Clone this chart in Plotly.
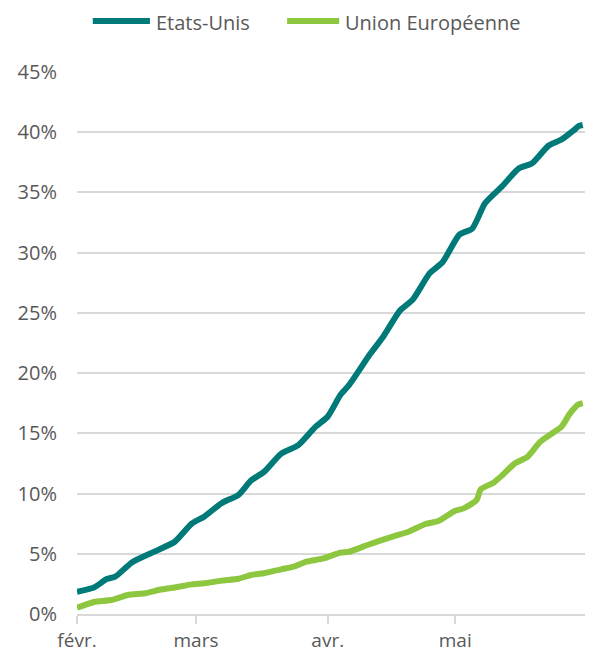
import plotly.graph_objects as go

# ---- data (share of population, %) ----
us_dates = ["2021-02-01", "2021-02-05", "2021-02-08", "2021-02-10", "2021-02-14", "2021-02-20",
            "2021-02-24", "2021-02-28", "2021-03-03", "2021-03-07", "2021-03-11", "2021-03-14",
            "2021-03-17", "2021-03-21", "2021-03-25", "2021-03-29", "2021-04-01", "2021-04-04",
            "2021-04-06", "2021-04-11", "2021-04-14", "2021-04-18", "2021-04-21", "2021-04-25",
            "2021-04-28", "2021-05-02", "2021-05-05", "2021-05-08", "2021-05-12", "2021-05-16",
            "2021-05-19", "2021-05-23", "2021-05-26", "2021-05-29", "2021-05-30", "2021-05-31"]
us_values = [1.85, 2.2, 2.9, 3.1, 4.3, 5.3,
             6.0, 7.5, 8.1, 9.2, 9.9, 11.1,
             11.8, 13.3, 14.0, 15.5, 16.4, 18.2,
             19.0, 21.6, 23.0, 25.2, 26.1, 28.3,
             29.2, 31.5, 32.0, 34.1, 35.5, 37.0,
             37.4, 38.9, 39.4, 40.2, 40.5, 40.6]

eu_dates = ["2021-02-01", "2021-02-05", "2021-02-09", "2021-02-13", "2021-02-17", "2021-02-21",
            "2021-02-24", "2021-02-28", "2021-03-03", "2021-03-07", "2021-03-11", "2021-03-14",
            "2021-03-17", "2021-03-21", "2021-03-24", "2021-03-27", "2021-03-31", "2021-04-04",
            "2021-04-06", "2021-04-11", "2021-04-17", "2021-04-20", "2021-04-24", "2021-04-27",
            "2021-05-01", "2021-05-03", "2021-05-06", "2021-05-07", "2021-05-10", "2021-05-12",
            "2021-05-15", "2021-05-18", "2021-05-21", "2021-05-24", "2021-05-26", "2021-05-28",
            "2021-05-30", "2021-05-31"]
eu_values = [0.52, 1.0, 1.16, 1.58, 1.72, 2.05,
             2.2, 2.46, 2.55, 2.77, 2.93, 3.24,
             3.38, 3.71, 3.93, 4.34, 4.62, 5.09,
             5.17, 5.81, 6.5, 6.83, 7.47, 7.72,
             8.57, 8.77, 9.46, 10.35, 10.9, 11.5,
             12.5, 13.05, 14.3, 15.05, 15.55, 16.65,
             17.4, 17.5]

series_names = ["Etats-Unis", "Union Européenne"]

x_tick_vals = ["2021-02-01", "2021-03-01", "2021-04-01", "2021-05-01", "2021-06-01"]
x_tick_text = ["févr.", "mars", "avr.", "mai", ""]
y_tick_vals = [0, 5, 10, 15, 20, 25, 30, 35, 40, 45]
y_tick_text = ["0%", "5%", "10%", "15%", "20%", "25%", "30%", "35%", "40%", "45%"]

US_COLOR = "#007A78"
EU_COLOR = "#8DC63F"
GRID = "#D9D9D9"
TXT = "#595959"
FONT = "Open Sans"
FS = 20

fig = go.Figure()
fig.add_trace(go.Scatter(x=us_dates, y=us_values, name=series_names[0], mode="lines",
                         line=dict(color=US_COLOR, width=6, shape="spline", smoothing=0.6)))
fig.add_trace(go.Scatter(x=eu_dates, y=eu_values, name=series_names[1], mode="lines",
                         line=dict(color=EU_COLOR, width=6, shape="spline", smoothing=0.6)))

# legend drawn as line samples + text above the plot
legend_items = [
    (series_names[0], US_COLOR, 0.031, 0.143, 0.151),
    (series_names[1], EU_COLOR, 0.412, 0.514, 0.522),
]
for name, col, x0, x1, xt in legend_items:
    fig.add_shape(type="line", xref="paper", yref="paper", x0=x0, x1=x1, y0=1.094, y1=1.094,
                  line=dict(color=col, width=6))
    fig.add_annotation(text=name, xref="paper", yref="paper", x=xt, y=1.0905,
                       xanchor="left", yanchor="middle", showarrow=False,
                       font=dict(size=FS, color=TXT, family=FONT))

fig.update_layout(
    width=593, height=656,
    margin=dict(l=69, r=14, t=64, b=50, autoexpand=False),
    paper_bgcolor="white", plot_bgcolor="white",
    font=dict(family=FONT, color=TXT, size=FS),
    showlegend=False,
    xaxis=dict(type="date", range=["2021-02-01", "2021-06-01"], automargin=False,
               tickmode="array", tickvals=x_tick_vals, ticktext=x_tick_text,
               showgrid=False, showline=True, linecolor=GRID, linewidth=1.5,
               ticks="outside", ticklen=8, tickcolor=GRID, tickwidth=1.5,
               ticklabelstandoff=0,
               tickfont=dict(size=19, color=TXT, family=FONT), zeroline=False),
    xaxis2=dict(type="date", matches="x", overlaying="x", anchor="y", automargin=False,
                tickmode="array", tickvals=x_tick_vals, showticklabels=False,
                showgrid=False, showline=False, zeroline=False,
                ticks="inside", ticklen=8, tickcolor=GRID, tickwidth=1.5),
    yaxis=dict(range=[0, 45], tickmode="array", tickvals=y_tick_vals, ticktext=y_tick_text,
               automargin=False,
               showgrid=True, gridcolor=GRID, gridwidth=1.5, zeroline=False,
               showline=False, ticks="", ticklabelstandoff=19,
               tickfont=dict(size=FS, color=TXT, family=FONT)),
)

fig.write_html("out.html")
